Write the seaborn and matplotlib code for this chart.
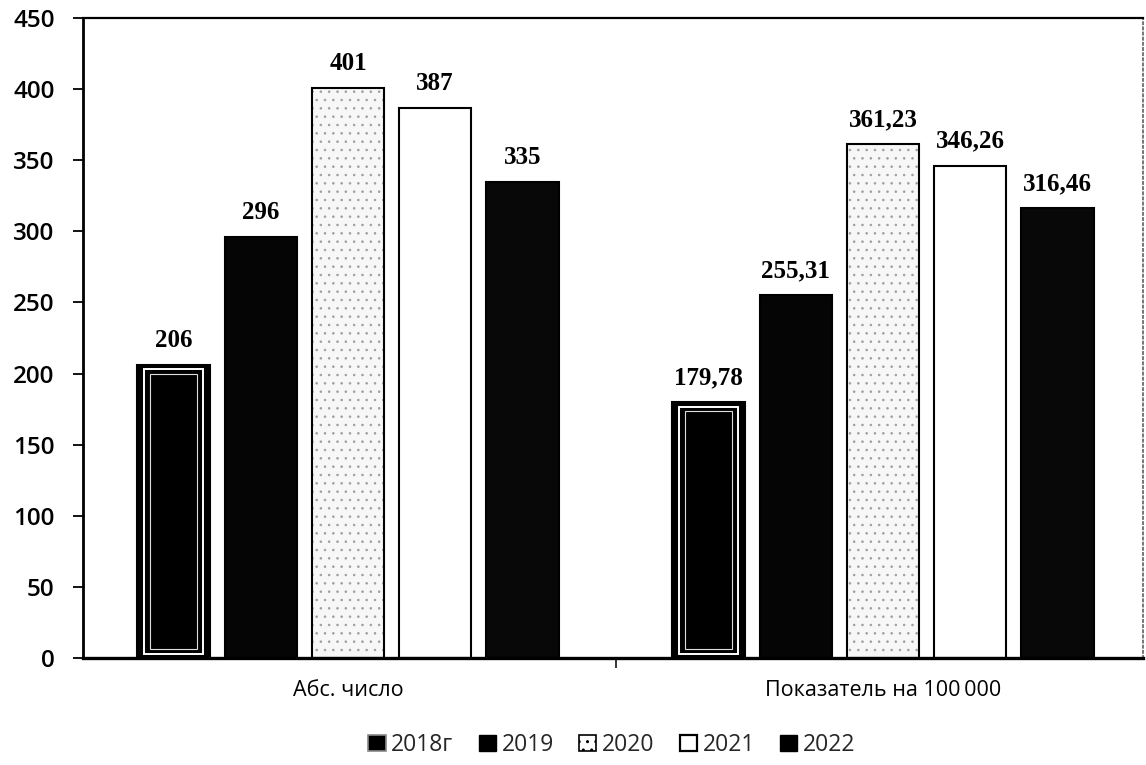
import matplotlib
matplotlib.use("Agg")
import matplotlib.pyplot as plt
import seaborn as sns
import pandas as pd
from matplotlib.patches import Rectangle, Patch
from matplotlib.ticker import FixedLocator

categories = ["Абс. число", "Показатель на 100\u2009000"]
years = ["2018г", "2019", "2020", "2021", "2022"]
values_abs = [206, 296, 401, 387, 335]
values_rate = [179.78, 255.31, 361.23, 346.26, 316.46]
labels_abs = ["206", "296", "401", "387", "335"]
labels_rate = ["179,78", "255,31", "361,23", "346,26", "316,46"]
y_ticks = [0, 50, 100, 150, 200, 250, 300, 350, 400, 450]

sns.set_theme(style="white")
plt.rcParams["font.family"] = ["Open Sans", "DejaVu Sans"]

rows = []
for y, v in zip(years, values_abs):
    rows.append({"cat": categories[0], "year": y, "val": v})
for y, v in zip(years, values_rate):
    rows.append({"cat": categories[1], "year": y, "val": v})
df = pd.DataFrame(rows)

fig = plt.figure(figsize=(11.46, 7.65), dpi=100)
ax = fig.add_axes([83 / 1146, 1 - 658 / 765, (1143 - 83) / 1146, (658 - 18) / 765])

palette = {"2018г": "#000000", "2019": "#050505", "2020": "#f7f7f7",
           "2021": "#ffffff", "2022": "#080808"}
sns.barplot(data=df, x="cat", y="val", hue="year", hue_order=years,
            order=categories, palette=palette, width=0.815, gap=0.17,
            edgecolor="black", linewidth=1.5, ax=ax, legend=False)

n_cat = len(categories)
bars = ax.patches[: n_cat * len(years)]
for i, p in enumerate(bars):
    yi = i // n_cat
    if yi == 0:
        x0, y0 = p.get_x(), p.get_y()
        w, h = p.get_width(), p.get_height()
        ax.add_patch(Rectangle((x0 + w * 0.09, y0 + 3), w * 0.82, h - 6,
                               fill=False, edgecolor="white", linewidth=1.4, zorder=3))
        ax.add_patch(Rectangle((x0 + w * 0.17, y0 + 6), w * 0.66, h - 12,
                               facecolor="black", edgecolor="#dddddd", linewidth=0.8, zorder=3))
    elif yi == 2:
        p.set_hatch("..")
        p._hatch_color = (0.62, 0.62, 0.62, 1.0)
        if hasattr(p, "set_hatch_linewidth"):
            p.set_hatch_linewidth(0.6)

all_labels = [labels_abs, labels_rate]
for i, p in enumerate(bars):
    yi = i // n_cat
    ci = i % n_cat
    ax.text(p.get_x() + p.get_width() / 2, p.get_height() + 9,
            all_labels[ci][yi], ha="center", va="bottom", color="black",
            fontsize=18, fontweight="bold", family="Liberation Serif", zorder=5)

ax.set_ylim(0, 450)
ax.set_xlim(-265 / 535, (1143 - 348) / 535)
ax.yaxis.set_major_locator(FixedLocator(y_ticks))
ax.tick_params(axis="y", which="major", length=7.5, width=1.3, direction="out",
               labelsize=17.5, left=True, colors="black", pad=13)
ax.tick_params(axis="x", which="major", length=0, labelsize=15.5, pad=16, colors="black")
ax.xaxis.set_minor_locator(FixedLocator([0.5]))
ax.tick_params(axis="x", which="minor", length=7, width=1.3, direction="out", bottom=True)
ax.set_xlabel("")
ax.set_ylabel("")
for t in ax.get_yticklabels():
    t.set_fontweight("semibold")
for t in ax.get_xticklabels():
    t.set_fontweight("medium")

for s in ["left", "bottom", "top"]:
    ax.spines[s].set_visible(True)
    ax.spines[s].set_color("black")
ax.spines["left"].set_linewidth(2)
ax.spines["bottom"].set_linewidth(2.4)
ax.spines["top"].set_linewidth(1.6)
ax.spines["right"].set_visible(True)
ax.spines["right"].set_color("#777777")
ax.spines["right"].set_linestyle(":")
ax.spines["right"].set_linewidth(1.4)
ax.grid(False)

handles = [
    Patch(facecolor="black", edgecolor="#888888", linewidth=1.2),
    Patch(facecolor="black", edgecolor="black"),
    Patch(facecolor="white", edgecolor="black", hatch="..", linewidth=1.2),
    Patch(facecolor="white", edgecolor="black", linewidth=1.6),
    Patch(facecolor="black", edgecolor="black"),
]
fig.legend(handles, years, loc="center", bbox_to_anchor=(612 / 1146, 1 - 745 / 765),
           ncol=5, frameon=False, fontsize=16.5, handlelength=0.75, handleheight=0.75,
           handletextpad=0.25, columnspacing=1.1)

fig.savefig("out.png", dpi=100)
